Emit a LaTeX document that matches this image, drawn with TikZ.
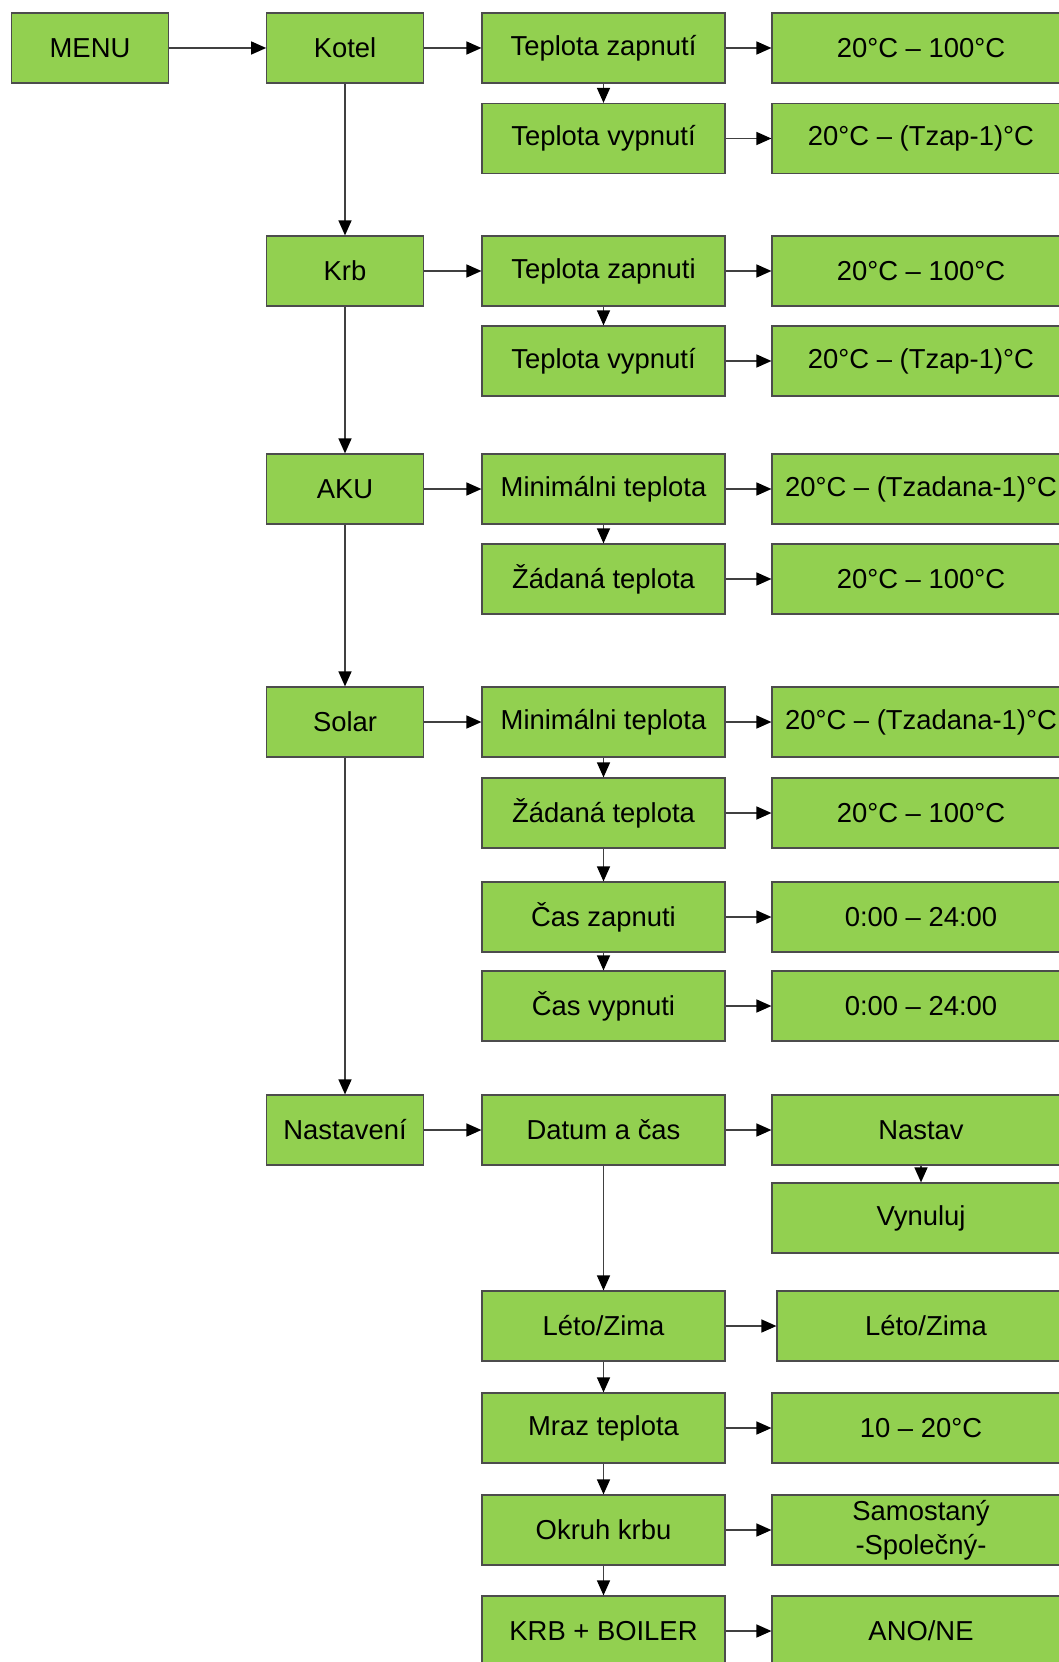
\documentclass[tikz,border=0pt]{standalone}
\usepackage{fontspec}
\setmainfont{Liberation Sans}
\usetikzlibrary{arrows.meta, positioning}
\definecolor{menugreen}{HTML}{92D050}

\begin{document}
\begin{tikzpicture}[x=0.02cm, y=-0.02cm, align=center,
    font=\fontsize{15.6}{19.3}\selectfont,
    menubox/.style={draw=black!70, line width=0.7pt, fill=menugreen, rectangle, minimum height=1.4cm, inner sep=0pt},
    topbox/.style={menubox, minimum width=3.13cm},
    subbox/.style={menubox, minimum width=4.86cm},
    valbox/.style={menubox, minimum width=5.96cm},
    arr/.style={-{Triangle[length=0.3cm, width=0.26cm, color=black]}, draw=black!75, line width=0.8pt}]
    \useasboundingbox (0,0) rectangle (1058,1662);

    % Draw the main column
    \node[topbox] (menu) at (90,48) {MENU};
    \node[topbox] (kotel) at (345,48) {Kotel};
    \node[topbox] (krb) at (345,271) {Krb};
    \node[topbox] (aku) at (345,489) {AKU};
    \node[topbox] (solar) at (345,722) {Solar};
    \node[topbox] (nast) at (345,1130) {Nastavení};

    % Kotel
    \node[subbox] (kZap) at (603.5,48) {Teplota zapnutí};
    \node[subbox] (kVyp) at (603.5,138.5) {Teplota vypnutí};
    \node[valbox] (kZapV) at (921,48) {20°C – 100°C};
    \node[valbox] (kVypV) at (921,138.5) {20°C – (Tzap-1)°C};

    % Krb
    \node[subbox] (rZap) at (603.5,271) {Teplota zapnuti};
    \node[subbox] (rVyp) at (603.5,361) {Teplota vypnutí};
    \node[valbox] (rZapV) at (921,271) {20°C – 100°C};
    \node[valbox] (rVypV) at (921,361) {20°C – (Tzap-1)°C};

    % AKU
    \node[subbox] (aMin) at (603.5,489) {Minimálni teplota};
    \node[subbox] (aZad) at (603.5,579) {Žádaná teplota};
    \node[valbox] (aMinV) at (921,489) {\makebox[0pt]{20°C – (Tzadana-1)°C}};
    \node[valbox] (aZadV) at (921,579) {20°C – 100°C};

    % Solar
    \node[subbox] (sMin) at (603.5,722) {Minimálni teplota};
    \node[subbox] (sZad) at (603.5,813) {Žádaná teplota};
    \node[subbox] (sZap) at (603.5,917) {Čas zapnuti};
    \node[subbox] (sVyp) at (603.5,1006) {Čas vypnuti};
    \node[valbox] (sMinV) at (921,722) {\makebox[0pt]{20°C – (Tzadana-1)°C}};
    \node[valbox] (sZadV) at (921,813) {20°C – 100°C};
    \node[valbox] (sZapV) at (921,917) {0:00 – 24:00};
    \node[valbox] (sVypV) at (921,1006) {0:00 – 24:00};

    % Nastaveni
    \node[subbox] (datum) at (603.5,1130) {Datum a čas};
    \node[subbox] (leto) at (603.5,1326) {Léto/Zima};
    \node[subbox] (mraz) at (603.5,1428) {Mraz teplota};
    \node[subbox] (okruh) at (603.5,1530) {Okruh krbu};
    \node[subbox] (boiler) at (603.5,1631) {KRB + BOILER};
    \node[valbox] (nastav) at (921,1130) {Nastav};
    \node[valbox] (vynuluj) at (921,1218) {Vynuluj};
    \node[valbox] (letoV) at (926,1326) {Léto/Zima};
    \node[valbox] (mrazV) at (921,1428) {10 – 20°C};
    \node[valbox] (okruhV) at (921,1530) {Samostaný\\-Společný-};
    \node[valbox] (boilerV) at (921,1631) {ANO/NE};

    % Draw the main arrows
    \draw[arr] (menu) -- (kotel);
    \draw[arr] (kotel) -- (krb);
    \draw[arr] (krb) -- (aku);
    \draw[arr] (aku) -- (solar);
    \draw[arr] (solar) -- (nast);

    % Kotel arrows
    \draw[arr] (kotel) -- (kZap);
    \draw[arr] (kZap) -- (kZapV);
    \draw[arr] (kZap) -- (kVyp);
    \draw[arr] (kVyp) -- (kVypV);

    % Krb arrows
    \draw[arr] (krb) -- (rZap);
    \draw[arr] (rZap) -- (rZapV);
    \draw[arr] (rZap) -- (rVyp);
    \draw[arr] (rVyp) -- (rVypV);

    % AKU arrows
    \draw[arr] (aku) -- (aMin);
    \draw[arr] (aMin) -- (aMinV);
    \draw[arr] (aMin) -- (aZad);
    \draw[arr] (aZad) -- (aZadV);

    % Solar arrows
    \draw[arr] (solar) -- (sMin);
    \draw[arr] (sMin) -- (sMinV);
    \draw[arr] (sMin) -- (sZad);
    \draw[arr] (sZad) -- (sZadV);
    \draw[arr] (sZad) -- (sZap);
    \draw[arr] (sZap) -- (sZapV);
    \draw[arr] (sZap) -- (sVyp);
    \draw[arr] (sVyp) -- (sVypV);

    % Nastaveni arrows
    \draw[arr] (nast) -- (datum);
    \draw[arr] (datum) -- (nastav);
    \draw[arr] (nastav) -- (vynuluj);
    \draw[arr] (datum) -- (leto);
    \draw[arr] (leto) -- (letoV);
    \draw[arr] (leto) -- (mraz);
    \draw[arr] (mraz) -- (mrazV);
    \draw[arr] (mraz) -- (okruh);
    \draw[arr] (okruh) -- (okruhV);
    \draw[arr] (okruh) -- (boiler);
    \draw[arr] (boiler) -- (boilerV);
\end{tikzpicture}
\end{document}
